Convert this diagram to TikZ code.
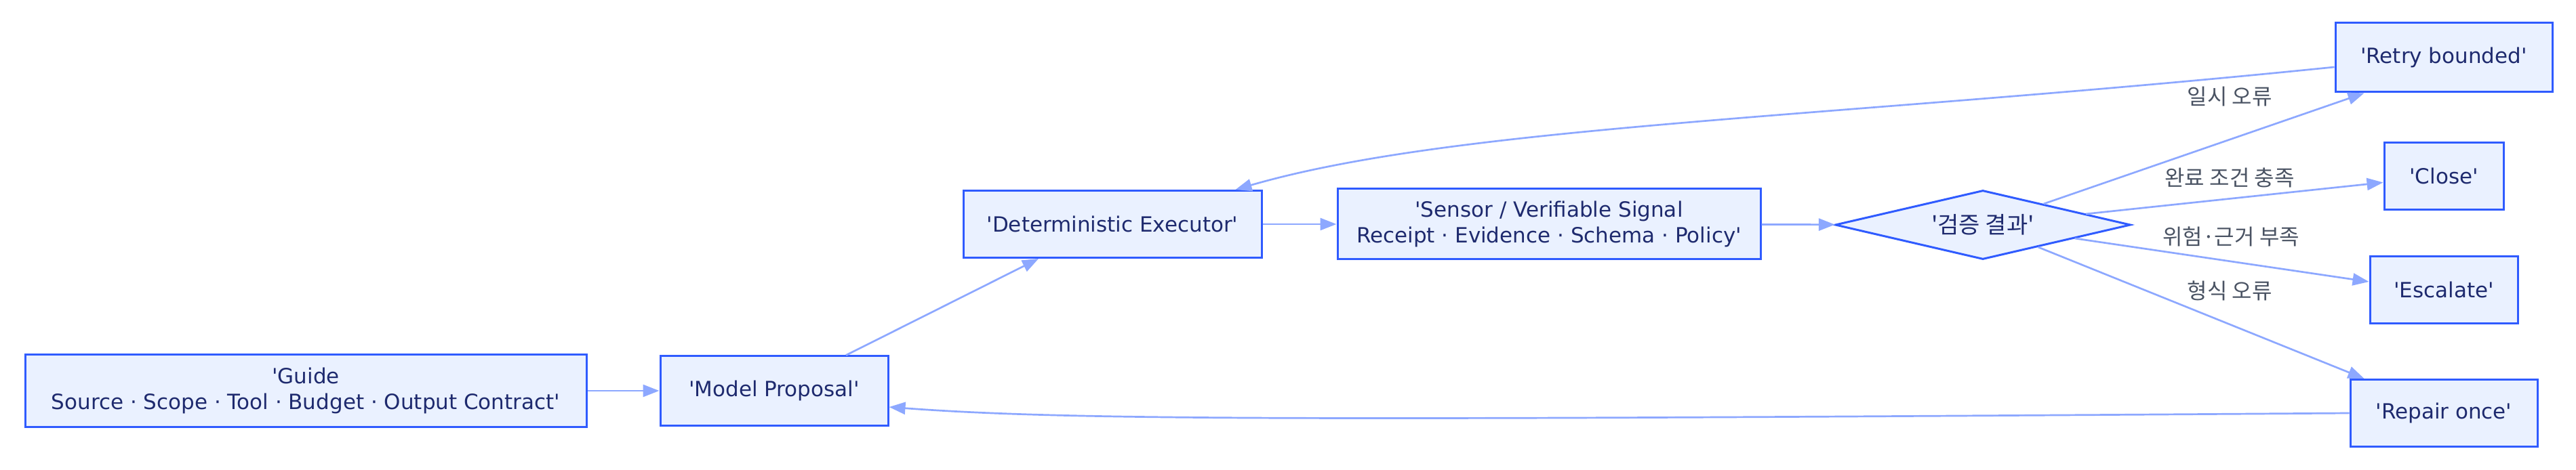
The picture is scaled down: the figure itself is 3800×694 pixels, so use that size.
\documentclass[tikz,border=0pt]{standalone}
\usepackage{fontspec}
\setmainfont{DejaVu Sans}[Ligatures=TeXOff]
\newfontfamily\krfont{Noto Sans CJK KR}
\usetikzlibrary{arrows.meta, shapes.geometric, calc}

\definecolor{boxfill}{HTML}{EAF1FF}
\definecolor{boxline}{HTML}{2F5BFF}
\definecolor{edgeline}{HTML}{8DA8FF}
\definecolor{boxtext}{HTML}{1E2A6E}
\definecolor{lbltext}{HTML}{4A5363}

\begin{document}
\begin{tikzpicture}[
    x=0.5pt, y=-0.5pt,
    box/.style={rectangle, draw=boxline, line width=1.5pt, fill=boxfill, text=boxtext,
      font=\fontsize{15.5}{19}\selectfont, align=center, inner sep=0pt},
    decision/.style={diamond, draw=boxline, line width=1.5pt, fill=boxfill, text=boxtext,
      font=\krfont\fontsize{17}{20}\selectfont, inner sep=0pt, shape aspect=4,
      minimum width=218pt, minimum height=51pt},
    flow/.style={draw=edgeline, line width=1.35pt, -{Triangle[length=12pt, width=9pt]}},
    lbl/.style={text=lbltext, font=\krfont\fontsize{16}{18}\selectfont, inner sep=0pt}
  ]
  \useasboundingbox (0,0) rectangle (3800,694);

  % main line
  \node[box, minimum width=414pt, minimum height=53pt] (guide) at (451,577)
    {'Guide\\Source · Scope · Tool · Budget · Output Contract'};
  \node[box, minimum width=168pt, minimum height=51pt] (model) at (1142,577) {'Model Proposal'};
  \node[box, minimum width=220pt, minimum height=49.5pt] (exec) at (1641,331) {'Deterministic Executor'};
  \node[box, minimum width=312pt, minimum height=52pt] (sensor) at (2285,331)
    {'Sensor / Verifiable Signal\\Receipt · Evidence · Schema · Policy'};
  \node[decision] (check) at (2925,332) {'검증 결과'};

  % outcomes
  \node[box, minimum width=160pt, minimum height=51pt] (retry) at (3605,85) {'Retry bounded'};
  \node[box, minimum width=88pt, minimum height=49.5pt] (close) at (3605,260) {'Close'};
  \node[box, minimum width=109pt, minimum height=49.5pt] (escalate) at (3605,428) {'Escalate'};
  \node[box, minimum width=138pt, minimum height=49.5pt] (repair) at (3605,610) {'Repair once'};

  \draw[flow] (guide) -- (model);
  \draw[flow] ([xshift=53pt]model.north) -- ([xshift=-54.5pt]exec.south);
  \draw[flow] (exec) -- (sensor);
  \draw[flow] (sensor) -- (check);
  \draw[flow] (check) -- ([xshift=22pt]retry.south west);
  \draw[flow] (check) -- (close);
  \draw[flow] (check) -- ([yshift=6pt]escalate.west);
  \draw[flow] (check) -- ([xshift=11pt]repair.north west);

  % loops back
  \draw[flow] ([yshift=-7pt]retry.west) .. controls (2700,175) and (2150,185) .. ([xshift=-20pt]exec.north east);
  \draw[flow] (repair.west) .. controls (1950,621) and (1580,621) .. ([yshift=-12pt]model.east);

  \node[lbl] (lretry) at (3289,143) {일시 오류};
  \node[lbl] (lclose) at (3289,262) {완료 조건 충족};
  \node[lbl] (lesc) at (3291,349) {위험·근거 부족};
  \node[lbl] (lrepair) at (3289,429) {형식 오류};
\end{tikzpicture}
\end{document}
